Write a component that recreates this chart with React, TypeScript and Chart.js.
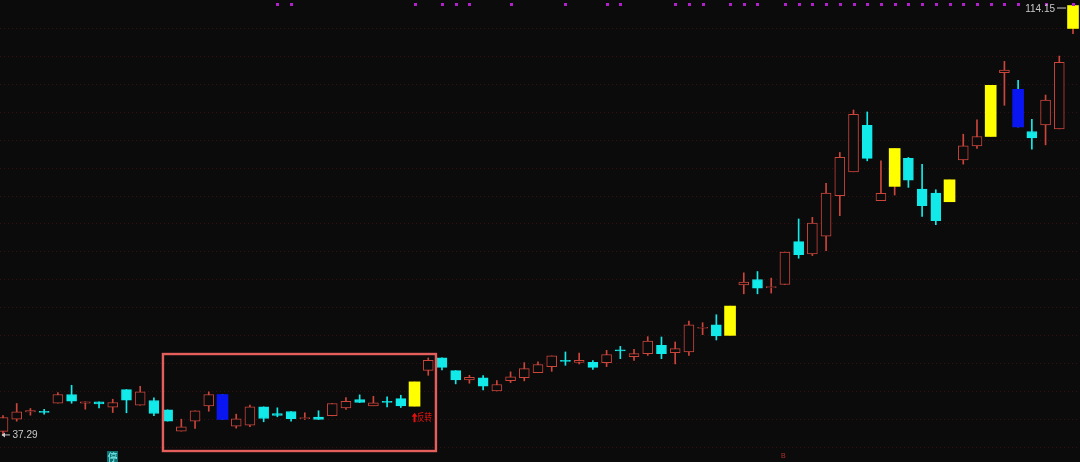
import React, { useEffect, useRef } from "react";
import { Chart, registerables } from "chart.js";

Chart.register(...registerables);

// ---- data ----
const opens = [
  37.83, 40.02, 41.31, 41.45, 42.88, 44.44, 42.88, 43.13, 42.17, 45.33,
  42.53, 43.37, 41.70, 37.88, 39.67, 42.42, 44.44, 38.77, 38.95, 42.24,
  41.04, 41.40, 40.10, 40.38, 40.63, 42.06, 43.55, 42.42, 43.24, 43.72,
  42.35, 48.78, 51.00, 48.73, 47.07, 47.42, 45.10, 46.94, 47.48, 48.37,
  49.44, 50.55, 50.21, 50.21, 50.16, 52.45, 51.23, 51.77, 53.25, 51.95,
  52.07, 56.33, 56.95, 55.04, 64.10, 65.05, 63.60, 64.15, 71.84, 69.64,
  72.81, 80.06, 84.35, 92.70, 79.17, 81.74, 86.75, 81.26, 80.54, 78.99,
  86.50, 89.00, 90.68, 102.12, 99.13, 91.57, 92.75, 92.04, 110.04,
];
const closes = [
  40.33, 41.35, 41.58, 41.22, 44.44, 43.24, 43.13, 42.78, 43.01, 43.42,
  44.92, 41.04, 39.67, 38.67, 41.53, 44.44, 39.97, 40.10, 42.24, 40.15,
  40.69, 40.10, 40.33, 39.97, 42.83, 43.24, 43.01, 42.95, 43.01, 42.42,
  46.71, 50.57, 49.32, 47.07, 47.53, 45.92, 46.23, 47.60, 49.09, 49.80,
  51.36, 50.37, 50.57, 49.32, 51.59, 52.27, 51.77, 54.04, 51.77, 52.66,
  56.95, 56.50, 54.93, 60.29, 64.58, 63.51, 63.78, 69.95, 69.52, 75.18,
  80.54, 86.93, 94.66, 86.75, 80.49, 88.53, 82.87, 78.27, 75.59, 82.92,
  89.00, 90.68, 99.85, 102.58, 92.39, 90.43, 97.22, 103.96, 114.15,
];
const highs = [
  40.69, 42.83, 41.94, 41.81, 44.80, 46.10, 43.13, 43.13, 43.60, 45.33,
  45.92, 43.85, 41.70, 40.02, 41.53, 44.92, 44.44, 40.92, 42.53, 42.24,
  42.06, 41.40, 41.17, 41.53, 42.83, 43.90, 44.38, 44.13, 44.03, 44.31,
  46.71, 51.00, 51.00, 48.73, 47.89, 47.84, 46.94, 48.50, 50.16, 50.28,
  51.36, 52.07, 51.89, 50.52, 52.36, 53.07, 52.54, 54.81, 54.75, 53.86,
  57.61, 57.31, 58.74, 60.29, 66.25, 66.48, 65.30, 69.95, 75.90, 76.20,
  82.28, 87.82, 95.43, 95.08, 86.32, 88.53, 86.93, 85.67, 81.13, 82.92,
  91.09, 93.65, 99.85, 104.14, 100.74, 93.77, 98.11, 105.09, 114.15,
];
const lows = [
  37.29, 39.67, 40.74, 40.92, 42.88, 42.88, 41.81, 42.06, 41.22, 41.17,
  42.53, 40.63, 39.67, 37.88, 38.36, 41.45, 39.97, 38.41, 38.67, 39.56,
  40.45, 39.67, 39.97, 39.97, 40.63, 41.76, 43.01, 42.42, 42.24, 42.12,
  42.35, 47.89, 48.85, 46.35, 46.46, 45.28, 45.10, 46.58, 46.89, 48.37,
  48.60, 49.68, 49.93, 48.96, 49.44, 50.87, 50.57, 51.46, 50.87, 49.93,
  51.46, 55.16, 54.22, 55.04, 62.49, 62.49, 62.62, 64.15, 68.87, 69.34,
  70.23, 76.49, 84.35, 86.32, 79.17, 80.19, 81.56, 76.38, 74.88, 78.99,
  85.73, 88.53, 90.68, 96.27, 92.39, 88.41, 89.18, 92.04, 109.09,
];
const yellowBars = [30, 53, 65, 69, 72, 78];
const blueBars = [16, 74];
const signalDots = [
  20, 21, 30, 32, 33, 34, 37, 41, 44, 45, 49, 50, 51, 53, 54, 55, 57, 58, 59,
  60, 61, 62, 63, 64, 65, 66, 67, 68, 69, 70, 71, 72, 73, 74, 76, 78,
];
const stopBar = 8;
const markBar = 57;
const boxSpan = { from: 11.66, to: 31.56, hi: 51.7, lo: 34.32 };
const reversalBar = 30;
const reversalText = "反转";
const stopText = "停";
const markText = "B";
const gridStep = 5;
const gridFrom = 35;
const gridTo = 110;
const yMin = 32.35;
const yMax = 115.14;

// ---- style ----
const BG = "#0b0b0c";
const RED = "#cc453b";
const CYAN = "#12eaea";
const YELLOW = "#ffff00";
const BLUE = "#0a16f2";
const GRID = "#361111";
const BOX = "#e45e5b";
const LABEL = "#c9c9c9";
const DOT = "#b021c9";

const idx = opens.map((_, i) => i);
const isUp = (i: number) => closes[i] >= opens[i];
const hl = (i: number) =>
  yellowBars.includes(i) ? "y" : blueBars.includes(i) ? "b" : "";

const overlayPlugin = {
  id: "overlay",
  beforeDraw(chart: any) {
    const { ctx, width, height } = chart;
    ctx.save();
    ctx.fillStyle = BG;
    ctx.fillRect(0, 0, width, height);
    ctx.restore();
  },
  afterDatasetsDraw(chart: any) {
    const { ctx } = chart;
    const xs = chart.scales.x;
    const ys = chart.scales.y;
    ctx.save();
    // signal dots row
    ctx.fillStyle = DOT;
    for (const i of signalDots) {
      const x = Math.round(xs.getPixelForValue(i));
      ctx.fillRect(x - 1, 3, 3, 3);
    }
    // highlight box
    ctx.strokeStyle = BOX;
    ctx.lineWidth = 2.4;
    const bx1 = xs.getPixelForValue(boxSpan.from);
    const bx2 = xs.getPixelForValue(boxSpan.to);
    const by1 = ys.getPixelForValue(boxSpan.hi);
    const by2 = ys.getPixelForValue(boxSpan.lo);
    ctx.strokeRect(bx1, by1, bx2 - bx1, by2 - by1);

    // reversal label
    const rx = xs.getPixelForValue(reversalBar) - 2.5;
    const ry = ys.getPixelForValue(lows[reversalBar]) + 6.5;
    ctx.fillStyle = "#e3120f";
    ctx.beginPath();
    ctx.moveTo(rx + 2.5, ry);
    ctx.lineTo(rx + 5.5, ry + 4);
    ctx.lineTo(rx - 0.5, ry + 4);
    ctx.closePath();
    ctx.fill();
    ctx.fillRect(rx + 1.5, ry + 3.5, 2, 6);
    ctx.save();
    ctx.translate(rx + 5, ry + 5);
    ctx.scale(0.75, 1);
    ctx.font = '10px "Noto Sans CJK SC", sans-serif';
    ctx.textBaseline = "middle";
    ctx.textAlign = "left";
    ctx.fillText(reversalText, 0, 0);
    ctx.restore();

    // min label
    const minIdx = lows.indexOf(Math.min(...lows));
    const minY = ys.getPixelForValue(lows[minIdx]);
    ctx.fillStyle = LABEL;
    ctx.strokeStyle = LABEL;
    ctx.lineWidth = 1;
    ctx.beginPath();
    ctx.moveTo(2, minY + 0.5);
    ctx.lineTo(10, minY + 0.5);
    ctx.stroke();
    ctx.beginPath();
    ctx.moveTo(1.5, minY + 0.5);
    ctx.lineTo(5, minY - 2);
    ctx.lineTo(5, minY + 3);
    ctx.closePath();
    ctx.fill();
    ctx.font = '10px "Liberation Sans", Arial, sans-serif';
    ctx.textBaseline = "middle";
    ctx.textAlign = "left";
    ctx.fillText(lows[minIdx].toFixed(2), 12.5, minY + 1);

    // max label
    const maxIdx = highs.indexOf(Math.max(...highs));
    const maxY = ys.getPixelForValue(highs[maxIdx]);
    const maxX = xs.getPixelForValue(maxIdx);
    ctx.textAlign = "right";
    ctx.fillText(highs[maxIdx].toFixed(2), maxX - 18, maxY + 4);
    ctx.beginPath();
    ctx.moveTo(maxX - 16, maxY + 2.5);
    ctx.lineTo(maxX - 7, maxY + 2.5);
    ctx.stroke();

    // stop marker
    const sx = Math.round(xs.getPixelForValue(stopBar));
    ctx.fillStyle = "#0e7070";
    ctx.fillRect(sx - 6, 451, 11, 11);
    ctx.fillStyle = "#7ef3f3";
    ctx.font = '10px "Noto Sans CJK SC", sans-serif';
    ctx.textAlign = "center";
    ctx.textBaseline = "middle";
    ctx.fillText(stopText, sx - 0.5, 457);

    // small mark
    const mx = xs.getPixelForValue(markBar);
    ctx.fillStyle = "#b3302a";
    ctx.font = '7px "Liberation Sans", Arial, sans-serif';
    ctx.fillText(markText, mx - 1.5, 456);
    ctx.restore();
  },
};

export default function App() {
  const ref = useRef<HTMLCanvasElement>(null);

  useEffect(() => {
    if (!ref.current) return;
    const normalBody = idx.map((i) =>
      hl(i) ? { x: i, y: null } : { x: i, y: [opens[i], closes[i]] }
    );
    const hlBody = idx.map((i) =>
      hl(i) ? { x: i, y: [opens[i], closes[i]] } : { x: i, y: null }
    );
    const wicks = idx.map((i) => ({ x: i, y: [lows[i], highs[i]] }));
    const bodyFill = idx.map((i) => (isUp(i) ? BG : CYAN));
    const bodyBorder = idx.map((i) => (isUp(i) ? RED : CYAN));
    const hlFill = idx.map((i) => (hl(i) === "y" ? YELLOW : BLUE));
    const wickColor = idx.map((i) => (isUp(i) ? RED : CYAN));

    const chart = new Chart(ref.current, {
      type: "bar",
      data: {
        datasets: [
          {
            data: hlBody as any,
            backgroundColor: hlFill,
            borderColor: hlFill,
            borderWidth: 0,
            borderSkipped: false,
            barThickness: 11,
            grouped: false,
            order: 0,
          } as any,
          {
            data: normalBody as any,
            backgroundColor: bodyFill,
            borderColor: bodyBorder,
            borderWidth: 1,
            borderSkipped: false,
            barThickness: 10,
            grouped: false,
            order: 1,
          } as any,
          {
            data: wicks as any,
            backgroundColor: wickColor,
            borderWidth: 0,
            barThickness: 1,
            grouped: false,
            order: 2,
          } as any,
        ],
      },
      options: {
        responsive: false,
        maintainAspectRatio: false,
        animation: false,
        events: [],
        layout: { padding: 0 },
        plugins: { legend: { display: false }, tooltip: { enabled: false } },
        scales: {
          x: {
            type: "linear",
            display: false,
            offset: false,
            min: -0.2187,
            max: 78.51,
          },
          y: {
            type: "linear",
            min: yMin,
            max: yMax,
            ticks: { display: false, stepSize: gridStep },
            grid: {
              drawTicks: false,
              lineWidth: 1,
              color: (c: any) => {
                const v = c.tick ? c.tick.value : 0;
                const r = Math.abs(v / gridStep - Math.round(v / gridStep));
                return r < 1e-6 && v >= gridFrom - 1e-6 && v <= gridTo + 1e-6
                  ? GRID
                  : "rgba(0,0,0,0)";
              },
            },
            border: { display: false, dash: [1, 3] },
            afterFit: (s: any) => {
              s.width = 0;
            },
          } as any,
        },
      },
      plugins: [overlayPlugin],
    });
    return () => chart.destroy();
  }, []);

  return (
    <div
      style={{
        position: "fixed",
        left: 0,
        top: 0,
        width: 1080,
        height: 462,
        background: BG,
        overflow: "hidden",
      }}
    >
      <canvas ref={ref} width={1080} height={462} style={{ display: "block" }} />
    </div>
  );
}
